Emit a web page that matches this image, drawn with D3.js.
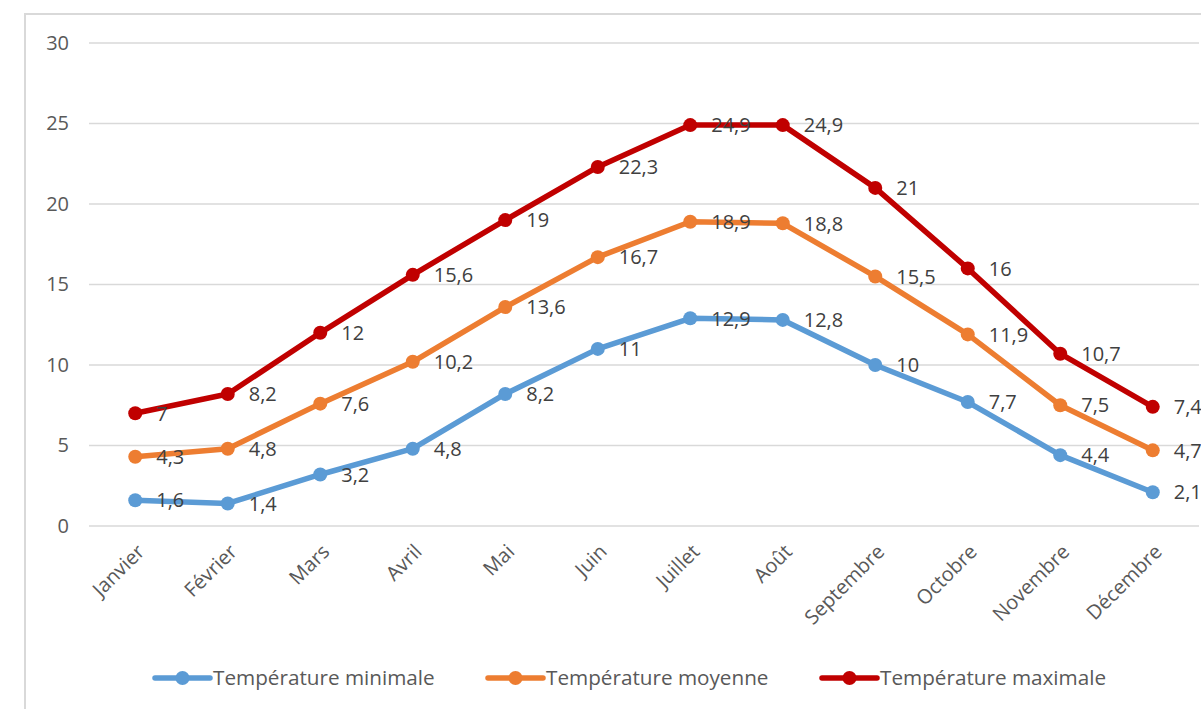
<!DOCTYPE html>
<html>
<head>
<meta charset="utf-8">
<script src="https://cdn.jsdelivr.net/npm/d3@7"></script>
<style>
  html, body { margin: 0; padding: 0; background: #fff; }
  svg { display: block; font-family: "Open Sans", sans-serif; }
</style>
</head>
<body>
<svg id="chart" width="1201" height="709"></svg>
<script>
// Monthly temperatures (°C)
const months = ["Janvier", "Février", "Mars", "Avril", "Mai", "Juin", "Juillet", "Août", "Septembre", "Octobre", "Novembre", "Décembre"];
const tempMin = [1.6, 1.4, 3.2, 4.8, 8.2, 11, 12.9, 12.8, 10, 7.7, 4.4, 2.1];
const tempMoy = [4.3, 4.8, 7.6, 10.2, 13.6, 16.7, 18.9, 18.8, 15.5, 11.9, 7.5, 4.7];
const tempMax = [7, 8.2, 12, 15.6, 19, 22.3, 24.9, 24.9, 21, 16, 10.7, 7.4];
const yTicks = [0, 5, 10, 15, 20, 25, 30];
const seriesNames = ["Température minimale", "Température moyenne", "Température maximale"];

const series = [
  { name: seriesNames[0], values: tempMin, color: "#5B9BD5" },
  { name: seriesNames[1], values: tempMoy, color: "#ED7D31" },
  { name: seriesNames[2], values: tempMax, color: "#C00000" }
];

const FONT = "'Open Sans', sans-serif";
const svg = d3.select("#chart");

// chart frame
svg.append("path")
  .attr("d", "M25,709 V14 H1201")
  .attr("fill", "none")
  .attr("stroke", "#d9d9d9")
  .attr("stroke-width", 2);

const x = d3.scalePoint().domain(months).range([89, 1199]).padding(0.5);
const y = d3.scaleLinear().domain([0, 30]).range([526, 43]);

// horizontal gridlines
svg.append("g")
  .selectAll("line")
  .data(yTicks)
  .join("line")
  .attr("x1", 89).attr("x2", 1199)
  .attr("y1", d => y(d)).attr("y2", d => y(d))
  .attr("stroke", "#d9d9d9")
  .attr("stroke-width", 1.5);

// y axis labels
const yAxis = svg.append("g")
  .attr("transform", "translate(69,0)")
  .call(d3.axisLeft(y).tickValues(yTicks).tickSize(0).tickPadding(0));
yAxis.select(".domain").remove();
yAxis.selectAll("text")
  .attr("font-size", 20)
  .attr("fill", "#595959")
  .attr("font-family", FONT);

// x axis labels (rotated)
const xAxis = svg.append("g")
  .attr("transform", "translate(0,526)")
  .call(d3.axisBottom(x).tickSize(0).tickPadding(0));
xAxis.select(".domain").remove();
xAxis.selectAll("text")
  .attr("font-size", 20)
  .attr("fill", "#595959")
  .attr("font-family", FONT)
  .attr("text-anchor", "end")
  .attr("dy", "0.35em")
  .attr("transform", "translate(5,22) rotate(-45)");

const line = d3.line()
  .x((d, i) => x(months[i]))
  .y(d => y(d));

const fmt = v => String(v).replace(".", ",");

series.forEach(s => {
  const g = svg.append("g");
  g.append("path")
    .datum(s.values)
    .attr("d", line)
    .attr("fill", "none")
    .attr("stroke", s.color)
    .attr("stroke-width", 5.5)
    .attr("stroke-linejoin", "round")
    .attr("stroke-linecap", "round");
  g.selectAll("circle")
    .data(s.values)
    .join("circle")
    .attr("cx", (d, i) => x(months[i]))
    .attr("cy", d => y(d))
    .attr("r", 7)
    .attr("fill", s.color);
});

// data labels, drawn on top of the lines
series.forEach(s => {
  svg.append("g")
    .selectAll("text")
    .data(s.values)
    .join("text")
    .attr("x", (d, i) => x(months[i]) + 21)
    .attr("y", d => y(d))
    .attr("dy", "0.36em")
    .attr("font-size", 20)
    .attr("fill", "#404040")
    .text(d => fmt(d));
});

// legend
const legendX = [155, 488, 822];
const legend = svg.append("g");
series.forEach((s, i) => {
  const lg = legend.append("g").attr("transform", `translate(${legendX[i]},678)`);
  lg.append("line")
    .attr("x1", 0).attr("x2", 55)
    .attr("y1", 0).attr("y2", 0)
    .attr("stroke", s.color)
    .attr("stroke-width", 5.5)
    .attr("stroke-linecap", "round");
  lg.append("circle").attr("cx", 27.5).attr("cy", 0).attr("r", 7).attr("fill", s.color);
  lg.append("text")
    .attr("x", 58).attr("y", 0).attr("dy", "0.36em")
    .attr("font-size", 20.7)
    .attr("fill", "#595959")
    .text(s.name);
});
</script>
</body>
</html>
